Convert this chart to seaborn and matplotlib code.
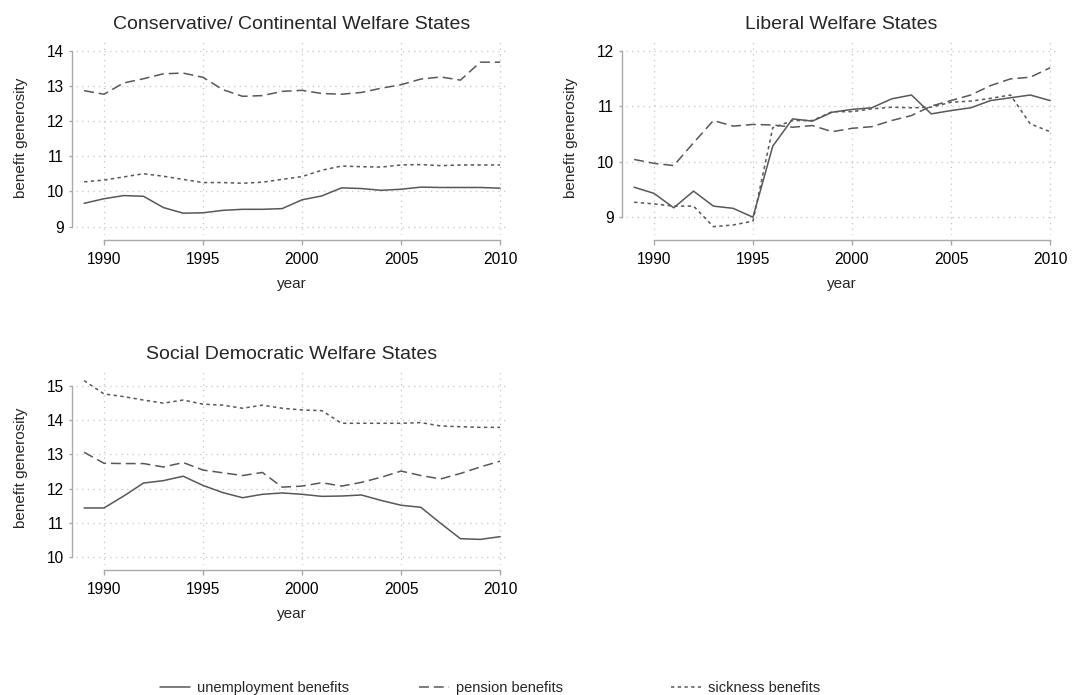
import numpy as np
import pandas as pd
import matplotlib
matplotlib.use("Agg")
import matplotlib.pyplot as plt
from matplotlib.lines import Line2D
import seaborn as sns

# data
years = list(range(1989, 2011))

cons_unemp = [9.66, 9.79, 9.88, 9.86, 9.54, 9.38, 9.39, 9.46, 9.49, 9.49, 9.51,
              9.76, 9.87, 10.10, 10.08, 10.03, 10.06, 10.12, 10.11, 10.11, 10.11, 10.09]
cons_pension = [12.86, 12.76, 13.08, 13.20, 13.34, 13.36, 13.24, 12.89, 12.70, 12.72, 12.84,
                12.87, 12.78, 12.76, 12.81, 12.93, 13.03, 13.19, 13.25, 13.16, 13.67, 13.67]
cons_sick = [10.27, 10.32, 10.41, 10.50, 10.43, 10.34, 10.25, 10.25, 10.23, 10.26, 10.34,
             10.42, 10.60, 10.72, 10.70, 10.69, 10.75, 10.76, 10.73, 10.75, 10.75, 10.75]

lib_unemp = [9.54, 9.43, 9.17, 9.47, 9.20, 9.16, 9.00, 10.28, 10.77, 10.73, 10.89,
             10.94, 10.97, 11.13, 11.20, 10.86, 10.92, 10.97, 11.10, 11.15, 11.20, 11.10]
lib_pension = [10.04, 9.97, 9.93, 10.34, 10.74, 10.64, 10.67, 10.66, 10.62, 10.65, 10.54,
               10.60, 10.63, 10.74, 10.83, 11.00, 11.10, 11.20, 11.37, 11.49, 11.52, 11.69]
lib_sick = [9.27, 9.24, 9.20, 9.20, 8.83, 8.86, 8.93, 10.61, 10.74, 10.74, 10.90,
            10.90, 10.95, 10.98, 10.97, 10.98, 11.07, 11.09, 11.14, 11.20, 10.68, 10.54]

soc_unemp = [11.43, 11.43, 11.78, 12.16, 12.23, 12.36, 12.09, 11.88, 11.73, 11.83, 11.87,
             11.83, 11.77, 11.78, 11.81, 11.65, 11.51, 11.45, 10.98, 10.53, 10.51, 10.59]
soc_pension = [13.06, 12.74, 12.73, 12.73, 12.63, 12.76, 12.54, 12.46, 12.38, 12.47, 12.04,
               12.07, 12.17, 12.07, 12.18, 12.33, 12.51, 12.38, 12.28, 12.44, 12.63, 12.80]
soc_sick = [15.16, 14.77, 14.69, 14.59, 14.50, 14.59, 14.47, 14.44, 14.35, 14.44, 14.35,
            14.30, 14.28, 13.91, 13.91, 13.91, 13.91, 13.93, 13.83, 13.81, 13.79, 13.79]

series_names = ["unemployment benefits", "pension benefits", "sickness benefits"]
titles = ["Conservative/ Continental Welfare States", "Liberal Welfare States",
          "Social Democratic Welfare States"]
yticks = [[9, 10, 11, 12, 13, 14], [9, 10, 11, 12], [10, 11, 12, 13, 14, 15]]
xticks = [1990, 1995, 2000, 2005, 2010]

panels = [
    (cons_unemp, cons_pension, cons_sick),
    (lib_unemp, lib_pension, lib_sick),
    (soc_unemp, soc_pension, soc_sick),
]

sns.set_theme(style="white")
plt.rcParams['font.family'] = ['Liberation Sans', 'DejaVu Sans']

line_col = "#585858"
grid_col = "#c4c4c4"
spine_col = "#a9a9a9"
dash_map = {"unemployment benefits": "",
            "pension benefits": (6.5, 3.2),
            "sickness benefits": (2.2, 2.2)}

fig = plt.figure(figsize=(10.74, 6.95), dpi=100)

# axes boxes in pixels (left, top, right, bottom)
boxes = [(76, 40, 507, 235), (626, 40, 1057, 235), (76, 370, 507, 565)]
ylims = [(8.76, 14.30), (8.68, 12.19), (9.76, 15.47)]
W, H = 1074, 695

for i, (vals, box) in enumerate(zip(panels, boxes)):
    l, t, r, b = box
    ax = fig.add_axes([l / W, 1 - b / H, (r - l) / W, (b - t) / H])
    df = pd.DataFrame({
        "year": years * 3,
        "value": list(vals[0]) + list(vals[1]) + list(vals[2]),
        "series": [series_names[0]] * len(years) + [series_names[1]] * len(years)
                  + [series_names[2]] * len(years),
    })
    sns.lineplot(data=df, x="year", y="value", style="series", dashes=dash_map,
                 color=line_col, linewidth=1.1, legend=False, ax=ax, zorder=3)
    ax.set_xlim(1988.59, 2010.35)
    ax.set_ylim(*ylims[i])
    ax.set_xticks(xticks)
    ax.set_yticks(yticks[i])
    ax.grid(True, color=grid_col, linestyle=(0, (1, 3.5)), linewidth=0.9)
    for s in ["top", "right"]:
        ax.spines[s].set_visible(False)
    ax.spines["left"].set_position(("outward", 3))
    ax.spines["bottom"].set_position(("outward", 3.6))
    ax.spines["left"].set_bounds(yticks[i][0], yticks[i][-1])
    ax.spines["bottom"].set_bounds(xticks[0], xticks[-1])
    for s in ["left", "bottom"]:
        ax.spines[s].set_color(spine_col)
        ax.spines[s].set_linewidth(1.0)
    ax.tick_params(axis="y", length=2.5, width=1.0, color=spine_col, pad=3,
                   labelsize=11.2, labelcolor="black", left=True)
    ax.tick_params(axis="x", length=3.5, width=1.0, color=spine_col, pad=5,
                   labelsize=11.2, labelcolor="black", bottom=True)
    ax.set_xlabel("year", fontsize=11, labelpad=7.5)
    ax.set_ylabel("benefit generosity", fontsize=11, labelpad=14)
    ax.set_title(titles[i], fontsize=14, pad=8)

handles = [Line2D([], [], color=line_col, linewidth=1.1, linestyle="-"),
           Line2D([], [], color=line_col, linewidth=1.1, dashes=dash_map["pension benefits"]),
           Line2D([], [], color=line_col, linewidth=1.1, dashes=dash_map["sickness benefits"])]
# one legend entry per column, columns placed like the reference
col_x = [160, 419, 671]
for h, name, cx in zip(handles, series_names, col_x):
    fig.legend([h], [name], loc="center left", bbox_to_anchor=(cx / W, 1 - 688 / H),
               frameon=False, fontsize=10.5, handlelength=2.05,
               handletextpad=0.5, borderpad=0, borderaxespad=0)

fig.savefig("out.png", dpi=100)
